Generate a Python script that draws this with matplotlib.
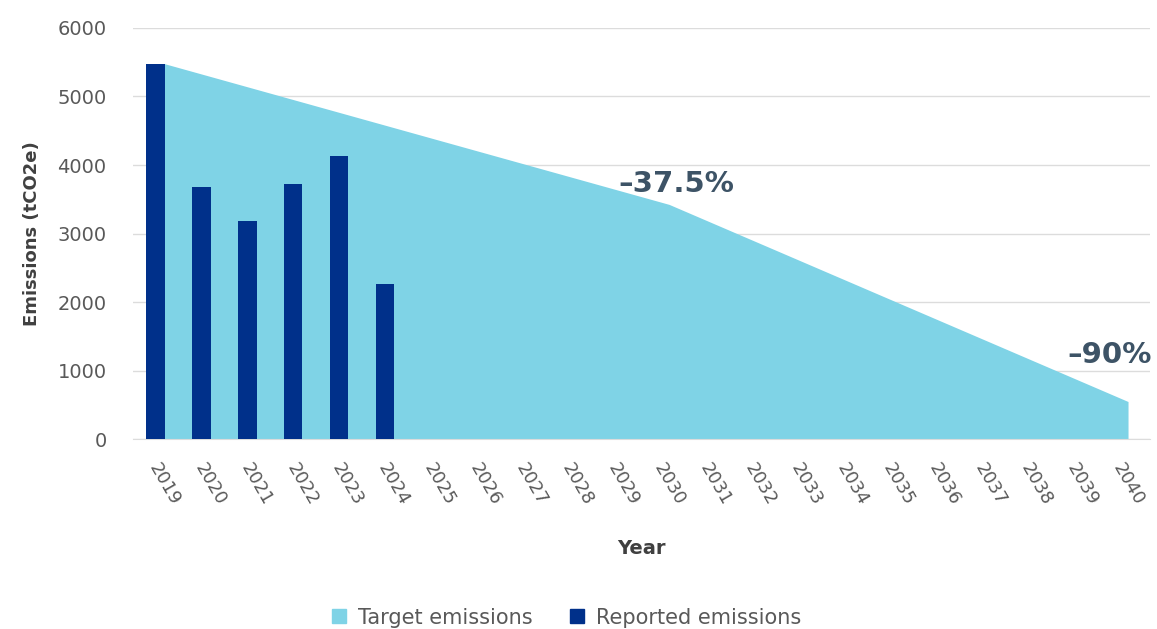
import matplotlib.pyplot as plt
from matplotlib.patches import Patch

# Datos
years = list(range(2019, 2041))
reported_years = [2019, 2020, 2021, 2022, 2023, 2024]
reported = [5480, 3680, 3180, 3730, 4130, 2270]
# Objetivo: vertices de la trayectoria (2019, -37.5% en 2030, -90% en 2040)
target_years = [2019, 2030, 2040]
target = [5480, 3425, 548]

plt.rcParams['font.family'] = ['DejaVu Sans']

fig = plt.figure(figsize=(11.57, 6.29), dpi=100)
ax = fig.add_axes([0.115, 0.302, 0.879, 0.6535])

ax.fill_between(target_years, target, 0, color='#7fd3e6', linewidth=0, zorder=2)
# barras pegadas a la izquierda de cada año (como en el original)
ax.bar([y - 0.19 for y in reported_years], reported, width=0.4, color='#00308a', zorder=3)

ax.set_xlim(2018.32, 2040.48)
ax.set_ylim(0, 6000)
ax.set_yticks(range(0, 6001, 1000))
ax.set_xticks(years)
ax.set_xticklabels([str(y) for y in years], rotation=-60, ha='center', va='top',
                   fontsize=13, color='#595959')
ax.tick_params(axis='y', labelsize=14, labelcolor='#595959', length=0, pad=19)
ax.tick_params(axis='x', length=0, pad=15)

ax.grid(axis='y', color='#dcdcdc', linewidth=1, zorder=1)
ax.set_axisbelow(True)
for s in ['top', 'right', 'left']:
    ax.spines[s].set_visible(False)
ax.spines['bottom'].set_color('#dcdcdc')

ax.set_ylabel('Emissions (tCO2e)', fontsize=13, fontweight='bold', color='#404040', labelpad=12)
ax.set_xlabel('Year', fontsize=14, fontweight='bold', color='#404040', labelpad=22)

ax.text(2030.15, 3720, '–37.5%', fontsize=21, fontweight='bold', color='#3d5366',
        ha='center', va='center', zorder=4)
ax.text(2039.6, 1230, '–90%', fontsize=21, fontweight='bold', color='#3d5366',
        ha='center', va='center', zorder=4)

handles = [Patch(color='#7fd3e6', label='Target emissions'),
           Patch(color='#00308a', label='Reported emissions')]
fig.legend(handles=handles, loc='center', bbox_to_anchor=(0.49, 0.018), ncol=2, frameon=False,
           fontsize=15, labelcolor='#595959', handlelength=0.65, handleheight=0.65,
           columnspacing=1.8, handletextpad=0.6)

fig.savefig('out.png', dpi=100)
